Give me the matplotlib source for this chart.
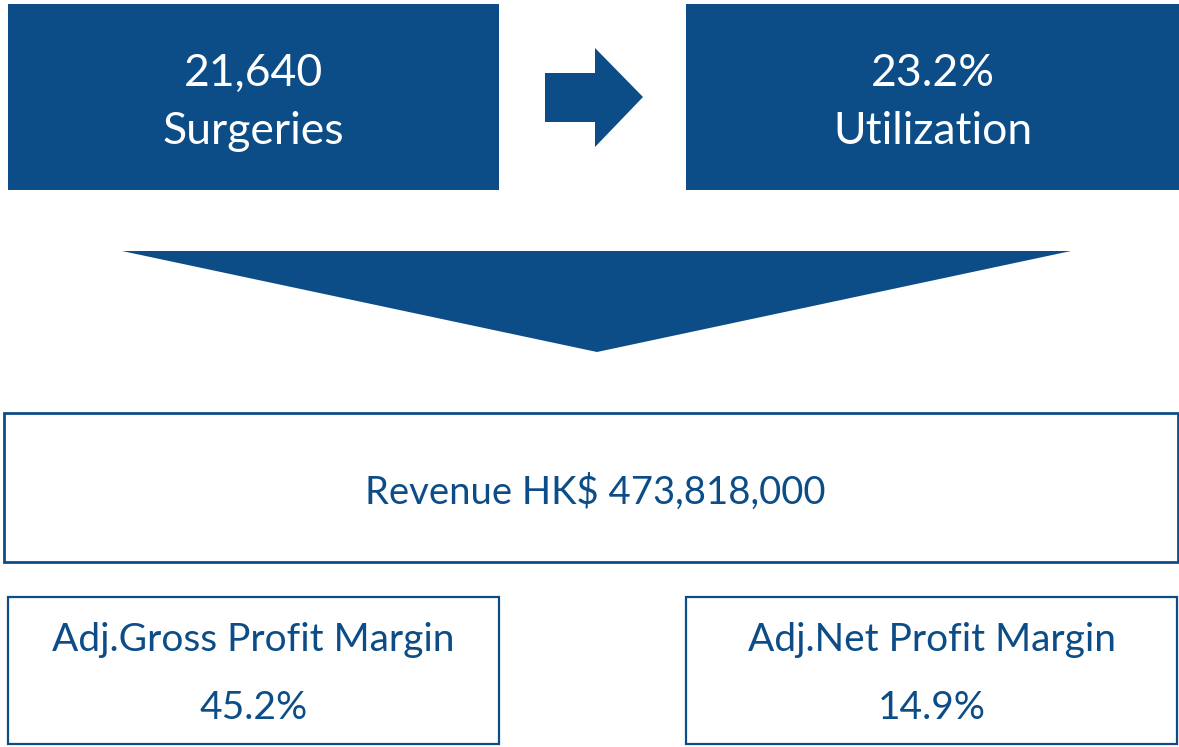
import matplotlib
matplotlib.use("Agg")
import matplotlib.pyplot as plt
from matplotlib.patches import Rectangle, Polygon

plt.rcParams['font.family'] = ['Lato', 'DejaVu Sans']

BLUE = "#0C4D87"

top_values = ["21,640", "23.2%"]
top_labels = ["Surgeries", "Utilization"]
revenue_label = "Revenue HK$ 473,818,000"
margin_labels = ["Adj.Gross Profit Margin", "Adj.Net Profit Margin"]
margin_values = ["45.2%", "14.9%"]

fig = plt.figure(figsize=(11.79, 7.47), dpi=100)
ax = fig.add_axes([0, 0, 1, 1])
ax.set_xlim(0, 1179)
ax.set_ylim(747, 0)
ax.axis("off")

# top filled boxes
top_boxes = [(8, 4, 491, 186), (686, 4, 493, 186)]
for (x, y, w, h), v, l in zip(top_boxes, top_values, top_labels):
    ax.add_patch(Rectangle((x, y), w, h, facecolor=BLUE, edgecolor="none"))
    cx = x + w / 2
    ax.text(cx, 73, v, color="white", fontsize=32, ha="center", va="center")
    ax.text(cx, 131, l, color="white", fontsize=32, ha="center", va="center")

# right arrow
ax.add_patch(Polygon([(545, 73), (595, 73), (595, 48), (643, 97), (595, 147),
                      (595, 122), (545, 122)], closed=True,
                     facecolor=BLUE, edgecolor="none"))

# down triangle
ax.add_patch(Polygon([(122, 251), (1071, 251), (597, 352)], closed=True,
                     facecolor=BLUE, edgecolor="none"))

# revenue box
ax.add_patch(Rectangle((4, 413), 1174, 149, facecolor="white",
                       edgecolor=BLUE, linewidth=2))
ax.text(595, 492, revenue_label, color=BLUE, fontsize=27.5,
        ha="center", va="center")

# bottom boxes
bottom_boxes = [(8, 597, 491, 147), (686, 597, 491, 147)]
for (x, y, w, h), l, v in zip(bottom_boxes, margin_labels, margin_values):
    ax.add_patch(Rectangle((x, y), w, h, facecolor="white",
                           edgecolor=BLUE, linewidth=1.6))
    cx = x + w / 2
    ax.text(cx, 640, l, color=BLUE, fontsize=28, ha="center", va="center")
    ax.text(cx, 708, v, color=BLUE, fontsize=28, ha="center", va="center")

fig.savefig("out.png", dpi=100)
